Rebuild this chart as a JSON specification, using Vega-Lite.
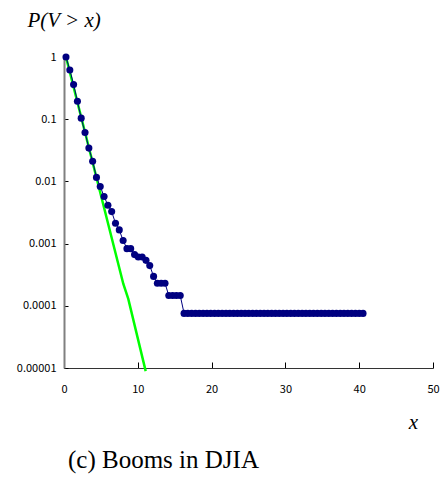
{
  "$schema": "https://vega.github.io/schema/vega-lite/v6.json",
  "width": 369,
  "height": 311,
  "autosize": "none",
  "padding": {"left": 64, "top": 57, "right": 10, "bottom": 109},
  "background": "white",
  "config": {"view": {"stroke": null}, "axis": {"grid": false}},
  "title": {
    "text": "(c) Booms in DJIA",
    "orient": "bottom",
    "anchor": "start",
    "frame": "group",
    "dx": 4,
    "offset": 16,
    "font": "Liberation Serif",
    "fontSize": 25,
    "fontWeight": "normal",
    "color": "black"
  },
  "datasets": {
    "booms": [
      {"x": 0.27, "p": 1},
      {"x": 0.79, "p": 0.618},
      {"x": 1.30, "p": 0.36},
      {"x": 1.82, "p": 0.194},
      {"x": 2.33, "p": 0.104},
      {"x": 2.85, "p": 0.061},
      {"x": 3.37, "p": 0.0343},
      {"x": 3.88, "p": 0.0211},
      {"x": 4.40, "p": 0.0116},
      {"x": 4.91, "p": 0.00828},
      {"x": 5.43, "p": 0.00571},
      {"x": 5.95, "p": 0.00414},
      {"x": 6.46, "p": 0.00327},
      {"x": 6.98, "p": 0.00212},
      {"x": 7.49, "p": 0.00166},
      {"x": 8.01, "p": 0.00112},
      {"x": 8.53, "p": 0.00083},
      {"x": 9.04, "p": 0.00083},
      {"x": 9.56, "p": 0.000665},
      {"x": 10.07, "p": 0.00061},
      {"x": 10.59, "p": 0.00061},
      {"x": 11.11, "p": 0.000538},
      {"x": 11.62, "p": 0.000443},
      {"x": 12.14, "p": 0.000297},
      {"x": 12.65, "p": 0.00023},
      {"x": 13.17, "p": 0.00023},
      {"x": 13.69, "p": 0.00023},
      {"x": 14.20, "p": 0.000146},
      {"x": 14.72, "p": 0.000146},
      {"x": 15.23, "p": 0.000146},
      {"x": 15.75, "p": 0.000146},
      {"x": 16.27, "p": 0.0000755},
      {"x": 16.78, "p": 0.0000755},
      {"x": 17.30, "p": 0.0000755},
      {"x": 17.82, "p": 0.0000755},
      {"x": 18.33, "p": 0.0000755},
      {"x": 18.85, "p": 0.0000755},
      {"x": 19.37, "p": 0.0000755},
      {"x": 19.88, "p": 0.0000755},
      {"x": 20.40, "p": 0.0000755},
      {"x": 20.91, "p": 0.0000755},
      {"x": 21.43, "p": 0.0000755},
      {"x": 21.95, "p": 0.0000755},
      {"x": 22.46, "p": 0.0000755},
      {"x": 22.98, "p": 0.0000755},
      {"x": 23.49, "p": 0.0000755},
      {"x": 24.01, "p": 0.0000755},
      {"x": 24.53, "p": 0.0000755},
      {"x": 25.04, "p": 0.0000755},
      {"x": 25.56, "p": 0.0000755},
      {"x": 26.07, "p": 0.0000755},
      {"x": 26.59, "p": 0.0000755},
      {"x": 27.11, "p": 0.0000755},
      {"x": 27.62, "p": 0.0000755},
      {"x": 28.14, "p": 0.0000755},
      {"x": 28.65, "p": 0.0000755},
      {"x": 29.17, "p": 0.0000755},
      {"x": 29.69, "p": 0.0000755},
      {"x": 30.20, "p": 0.0000755},
      {"x": 30.72, "p": 0.0000755},
      {"x": 31.23, "p": 0.0000755},
      {"x": 31.75, "p": 0.0000755},
      {"x": 32.27, "p": 0.0000755},
      {"x": 32.78, "p": 0.0000755},
      {"x": 33.30, "p": 0.0000755},
      {"x": 33.81, "p": 0.0000755},
      {"x": 34.33, "p": 0.0000755},
      {"x": 34.85, "p": 0.0000755},
      {"x": 35.36, "p": 0.0000755},
      {"x": 35.88, "p": 0.0000755},
      {"x": 36.39, "p": 0.0000755},
      {"x": 36.91, "p": 0.0000755},
      {"x": 37.43, "p": 0.0000755},
      {"x": 37.94, "p": 0.0000755},
      {"x": 38.46, "p": 0.0000755},
      {"x": 38.97, "p": 0.0000755},
      {"x": 39.49, "p": 0.0000755},
      {"x": 40.01, "p": 0.0000755},
      {"x": 40.52, "p": 0.0000755}
    ],
    "fit": [
      {"x": 0.27, "p": 1},
      {"x": 8.04, "p": 0.000224},
      {"x": 8.71, "p": 0.000129},
      {"x": 11.07, "p": 0.0000089}
    ]
  },
  "encoding": {
    "x": {
      "field": "x",
      "type": "quantitative",
      "scale": {"domain": [0, 50], "nice": false},
      "axis": {
        "values": [0, 10, 20, 30, 40, 50],
        "tickSize": -6,
        "tickColor": "black",
        "domainColor": "#333333",
        "domainWidth": 1,
        "labelPadding": 21,
        "labelFont": "Noto Sans CJK JP",
        "labelFontSize": 11,
        "labelColor": "black",
        "labelFlush": false,
        "title": "x",
        "titleFont": "Liberation Serif",
        "titleFontStyle": "italic",
        "titleFontWeight": "normal",
        "titleFontSize": 21,
        "titleColor": "black",
        "titleX": 349,
        "titleY": 54,
        "titleAlign": "center",
        "titleBaseline": "middle"
      }
    },
    "y": {
      "field": "p",
      "type": "quantitative",
      "scale": {"type": "log", "domain": [0.00001, 1], "nice": false},
      "axis": {
        "values": [1, 0.1, 0.01, 0.001, 0.0001, 0.00001],
        "labelExpr": "format(datum.value, '.5~f')",
        "tickSize": -4,
        "tickColor": "black",
        "domainColor": "#808080",
        "domainWidth": 2,
        "labelPadding": 12,
        "labelFont": "Noto Sans CJK JP",
        "labelFontSize": 11,
        "labelColor": "black",
        "labelFlush": false,
        "title": "P(V > x)",
        "titleFont": "Liberation Serif",
        "titleFontStyle": "italic",
        "titleFontWeight": "normal",
        "titleFontSize": 21,
        "titleColor": "black",
        "titleAngle": 0,
        "titleAlign": "left",
        "titleBaseline": "middle",
        "titleX": -37,
        "titleY": -37
      }
    }
  },
  "layer": [
    {
      "data": {"name": "fit"},
      "mark": {"type": "line", "color": "#00ff00", "strokeWidth": 2.5}
    },
    {
      "data": {"name": "booms"},
      "mark": {"type": "line", "color": "#000080", "strokeWidth": 1}
    },
    {
      "data": {"name": "booms"},
      "mark": {"type": "circle", "color": "#000080", "size": 50, "opacity": 1}
    }
  ]
}
